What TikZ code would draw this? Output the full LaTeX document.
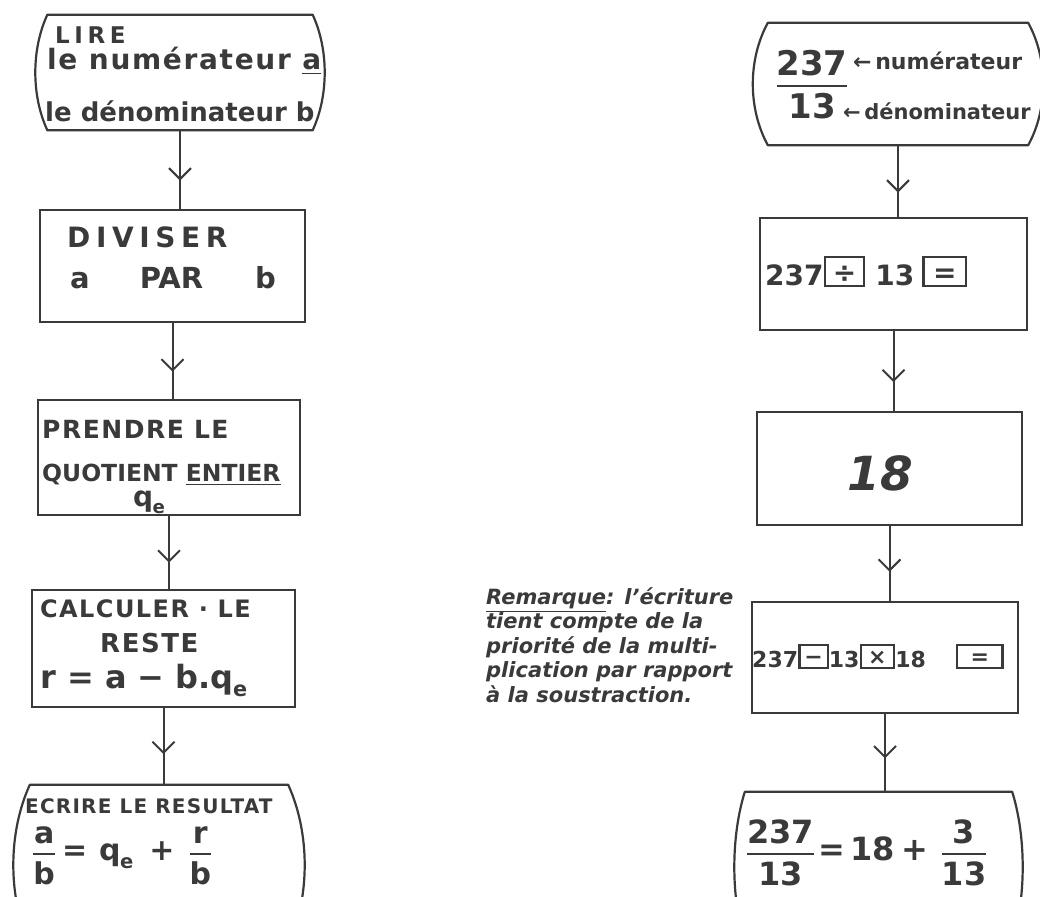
\documentclass[tikz,border=0pt]{standalone}
\usepackage{fontspec}
\usepackage{amsmath}
\setmainfont{DejaVu Sans}
\newfontfamily\spacedfont{DejaVu Sans}[LetterSpace=20]
\newfontfamily\loosefont{DejaVu Sans}[LetterSpace=6]
\usetikzlibrary{arrows.meta,decorations.markings,calc}
\definecolor{ink}{HTML}{3A3A3A}
\newcommand\sz[1]{\fontsize{#1}{#1}\selectfont}
\newcommand\qe{q\kern-0.02em\raisebox{-0.28em}{\scalebox{0.65}{e}}}
\newcommand\hfrac[2]{\genfrac{}{}{2.2pt}{0}{\text{#1}}{\text{#2}}}
\newcommand\keyb[3]{{\setlength\fboxrule{2.4pt}\setlength\fboxsep{0pt}\fbox{\makebox[#1pt]{\rule{0pt}{#2pt}\raisebox{0.1em}{#3}}}}}
\newcommand\termoutline[2]{\draw[outl] (#1.north west) -- (#1.north east)
  .. controls ($(#1.north east)!0.3!(#1.south east)+(#2,0)$) and ($(#1.north east)!0.7!(#1.south east)+(#2,0)$) .. (#1.south east)
  -- (#1.south west)
  .. controls ($(#1.south west)!0.3!(#1.north west)+(-#2,0)$) and ($(#1.south west)!0.7!(#1.north west)+(-#2,0)$) .. cycle;}
\begin{document}
\begin{tikzpicture}[x=1pt,y=-1pt,
  procbox/.style 2 args={draw=ink, line width=2.2pt, inner sep=0pt, minimum width=#1pt, minimum height=#2pt},
  termbox/.style 2 args={inner sep=0pt, minimum width=#1pt, minimum height=#2pt},
  outl/.style={draw=ink, line width=2.2pt, line join=round},
  txt/.style={anchor=base west, inner sep=0pt, text=ink, font=\bfseries},
  conn/.style={draw=ink, line width=2pt, postaction={decorate},
    decoration={markings, mark=at position #1 with {\arrow{Straight Barb[length=11pt,width=22pt,line width=2pt]}}}},
  conn/.default=0.64]
\useasboundingbox (0,0) rectangle (1040,896);
\clip (0,0) rectangle (1040,896);

% ---- left column boxes
\node[termbox={265}{115}] (L1) at (180,72.5) {};
\node[procbox={265}{112}] (L2) at (172.5,266) {};
\node[procbox={262}{115}] (L3) at (169,457.5) {};
\node[procbox={263}{117}] (L4) at (163.5,648.5) {};
\node[termbox={258}{160}] (L5) at (159,865) {};
\termoutline{L1}{16}
\termoutline{L5}{22}

% ---- right column boxes
\node[termbox={260}{122}] (R1) at (898,84) {};
\node[procbox={267}{112}] (R2) at (893.5,274) {};
\node[procbox={265}{113}] (R3) at (889.5,468.5) {};
\node[procbox={266}{111}] (R4) at (885,657.5) {};
\node[termbox={267}{150}] (R5) at (878.5,867) {};
\termoutline{R1}{20}
\termoutline{R5}{14}

% ---- connectors
\draw[conn] (L1.south) -- (L1.south |- L2.north);
\draw[conn] (L2.south) -- (L2.south |- L3.north);
\draw[conn] (L3.south) -- (L3.south |- L4.north);
\draw[conn=0.6] (L4.south) -- (L4.south |- L5.north);
\draw[conn=0.66] (R1.south) -- (R1.south |- R2.north);
\draw[conn] (R2.south) -- (R2.south |- R3.north);
\draw[conn=0.61] (R3.south) -- (R3.south |- R4.north);
\draw[conn=0.57] (R4.south) -- (R4.south |- R5.north);

% ---- left texts
\node[txt] (t1a) at (55,44) {\spacedfont\sz{23}LIRE};
\node[txt] (t1b) at (47,70) {\loosefont\sz{28}le numérateur \underline{a}};
\node[txt] (t1c) at (45,122) {\sz{26}le dénominateur b};

\node[txt] (t2a) at (67,247) {\spacedfont\sz{28}DIVISER};
\node[txt] (t2b) at (70,288) {\sz{29}a\hspace{50pt}PAR\hspace{52pt}b};

\node[txt] (t3a) at (42,438) {\loosefont\sz{25}PRENDRE LE};
\node[txt] (t3b) at (42,481) {\sz{23.5}QUOTIENT \underline{ENTIER}};
\node[txt] (t3c) at (133,506) {\sz{28}\qe};

\node[txt] (t4a) at (40,617) {\loosefont\sz{24}CALCULER · LE};
\node[txt] (t4b) at (100,652) {\loosefont\sz{26}RESTE};
\node[txt] (t4c) at (40,688) {\sz{32}r = a − b.\qe};

\node[txt] (t5a) at (25,813) {\loosefont\sz{20}ECRIRE LE RESULTAT};
\node[anchor=base west, inner sep=0pt, text=ink, font=\bfseries] (t5b) at (32,860)
  {\sz{30}$\hfrac{a}{b}\hspace{6pt}\text{=}\hspace{12pt}\text{\qe}\hspace{16pt}\text{+}\hspace{14pt}\hfrac{r}{b}$};

% ---- right texts
\node[anchor=base, inner sep=0pt, text=ink, font=\bfseries] (t6a) at (812,92) {\sz{34}$\hfrac{237}{13}$};
\node[txt] (t6b) at (853,70) {\sz{22}←\,numérateur};
\node[txt] (t6c) at (843,120) {\sz{21}←\,dénominateur};

\node[txt] (t7) at (765,285) {\sz{28}237\keyb{37}{27}{÷}\hspace{10pt}13\hspace{8pt}\keyb{40}{27}{=}};

\node[anchor=base, inner sep=0pt, text=ink, font=\bfseries] (t8) at (880,490) {\sz{47}\itshape 18};

\node[txt] (t9) at (752,667) {\sz{22}237\keyb{26}{21}{−}13\keyb{31}{21}{×}18\hspace{30pt}\keyb{43}{21}{=}};

\node[anchor=base west, inner sep=0pt, text=ink, font=\bfseries] (t10) at (746,860)
  {\sz{32}$\hfrac{237}{13}\hspace{3pt}\text{=}\hspace{5pt}\text{18}\hspace{7pt}\text{+}\hspace{12pt}\hfrac{3}{13}$};

% ---- remark
\node[anchor=north west, inner sep=0pt, text=ink, align=left,
  font={\fontsize{21}{24.5}\selectfont\bfseries\itshape}] (rem) at (486,587)
  {\underline{Remarque}: l'écriture\\ tient compte de la\\ priorité de la multi-\\ plication par rapport\\ à la soustraction.};
\end{tikzpicture}
\end{document}
